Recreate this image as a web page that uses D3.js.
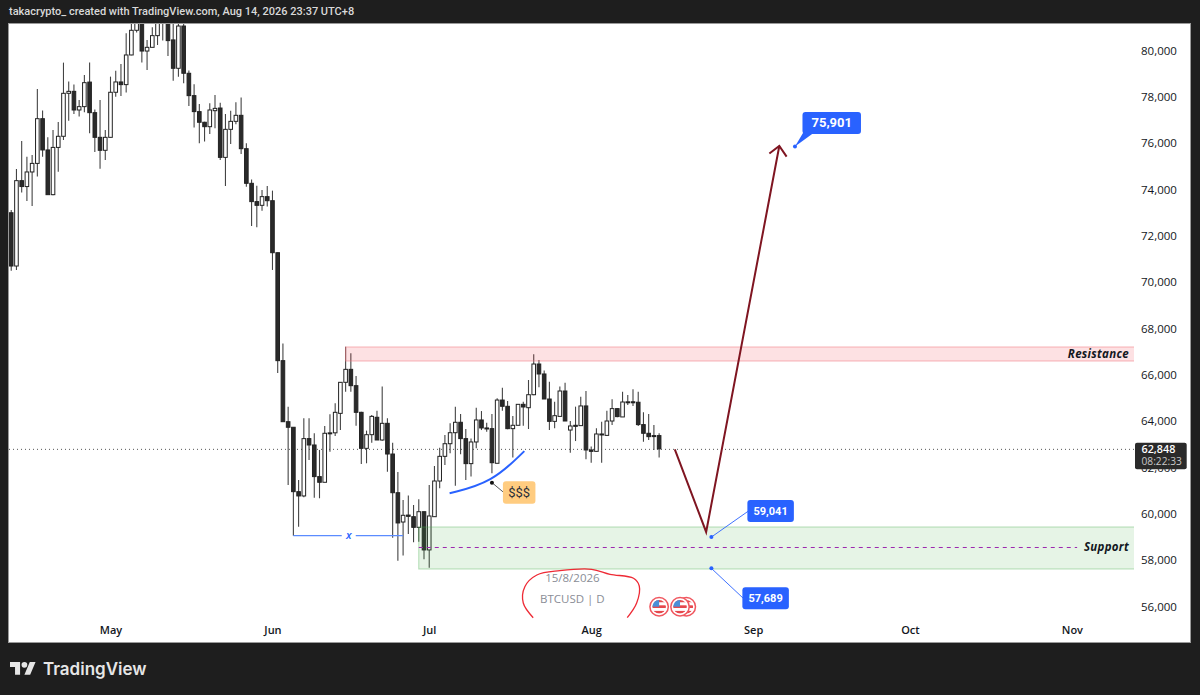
<!DOCTYPE html>
<html>
<head>
<meta charset="utf-8">
<script src="https://cdn.jsdelivr.net/npm/d3@7"></script>
<style>
  html, body { margin: 0; padding: 0; background: #1e1e1e; }
  svg { display: block; font-family: "Open Sans", sans-serif; }
  .price-axis text, .time-axis text { fill: #131722; font-size: 11.5px; font-family: "Open Sans", sans-serif; }
  .time-axis text { font-size: 11px; font-weight: 600; }
</style>
</head>
<body>
<svg id="chart" width="1200" height="695"></svg>
<script>
// daily candles, first one is 12 Apr 2026
var opens = [73040,70740,74425,74170,74800,75170,77100,75750,73820,75860,76340,78195,78280,77475,77620,78680,77360,76295,75735,76295,78240,78685,78570,79850,80915,81430,80020,80180,80685,81390,
  81600,80500,79275,81100,79060,78095,77405,76945,76755,77445,77560,75430,76640,76985,77245,75805,74310,73520,73360,73735,73560,71315,66655,64020,63780,61000,60815,63290,63015,61650,
  61405,63520,63540,64380,65720,66280,65575,64425,62870,63460,64210,63230,63950,62625,60955,59690,59990,59920,59460,60135,58485,59920,61460,62525,63070,63545,63995,63290,62210,63145,
  64095,63750,63720,62225,64955,64685,63720,63865,64770,64625,65185,66510,66080,65000,64035,64250,65345,63660,63865,63850,64700,62800,62740,63490,63430,64050,64585,64225,64870,64880,
  64860,63895,63520,63420,63420];
var highs = [73160,74930,76140,75460,75530,78380,77450,76300,76610,76960,79520,78700,78580,77910,78985,79520,77500,77910,76610,78915,79170,79460,80785,81500,81650,81600,80500,81045,81580,81900,
  81800,81400,81400,81300,79175,78585,77735,76970,77765,78125,77790,77305,77445,77805,78010,76035,74480,74210,74020,74195,73995,71320,67400,64670,63780,61505,64165,64165,63520,62800,
  63835,64340,64815,65730,67260,66970,65995,64455,63635,64310,64495,65535,64165,63115,61850,60640,60830,60425,60670,60140,61290,62110,62900,63445,63950,64670,64355,63705,63300,64625,
  64480,63980,64355,65030,65490,64915,64265,64770,64885,65820,66930,66685,66225,65750,64885,65535,65705,64050,64670,65100,65345,62945,63735,64020,64495,64985,64600,65315,65175,65420,
  65315,64425,64355,63880,63520];
var lows = [70540,70570,73910,73550,73330,74600,75460,73820,73790,74810,76180,77015,77300,77190,77375,76470,75660,74940,75320,76295,78050,78080,78225,79835,80815,79520,79200,80180,80280,80470,
  79805,78740,78915,78625,77650,76715,76035,76110,76440,76685,75315,74195,76010,76855,75575,74165,72470,72410,73130,73305,70570,66125,64020,61290,59100,59490,60755,62365,60740,60715,
  61405,62725,63405,63660,65315,65315,63850,62195,62225,63115,63230,63200,61865,59015,58020,58240,59175,58815,58840,58080,57720,59920,61145,62150,62655,61260,62610,61505,61650,62870,
  63660,63590,61790,62225,64495,63690,62470,63865,63850,63705,65160,65505,65000,63660,63735,64250,64050,62685,63185,63850,62395,62250,62725,62250,63405,63880,64210,64225,64740,64700,
  63835,63160,63230,62800,62470];
var closes = [70740,74425,74170,74800,75170,77100,75750,73820,75860,76340,78195,78280,77475,77620,78655,77360,76295,75735,76295,78240,78685,78570,79850,80915,81430,80020,80180,80685,81390,81600,
  80470,79275,81100,79060,78095,77405,76945,76755,77475,77545,75430,76640,76985,77245,75805,74310,73520,73360,73735,73560,71315,66655,64020,63780,61000,60815,63290,63015,61650,61405,
  63520,63540,64425,65720,66280,65575,64425,62870,63460,64250,63230,63950,62625,60955,59650,59980,59935,59460,60135,58485,59950,61460,62525,63070,63545,63995,63290,62210,63145,64095,
  63750,63720,62250,64955,64685,63720,63865,64770,64655,65185,66510,66080,65000,64035,64280,65345,64050,63835,63820,64700,62800,62740,63490,63460,64050,64585,64240,64870,64880,64860,
  63895,63520,63375,63390,62848];

var priceTicks = [56000,58000,60000,62000,64000,66000,68000,70000,72000,74000,76000,78000,80000];
// day offsets from 1 May 2026 for the month labels
var monthDays = [0,31,61,92,123,153,184];

// drawings, as [days from 1 May, price]
var resistanceZone = [[45,67245],[196,66640]];
var supportZone = [[59,59475],[196,57662]];
var supportMid = [[59,58590],[185,58590]];
var xLine = [[35,59101],[56,59101]];
var swingCurve = [[64.9,60930],[73,61390],[79.2,62750]];
var swingDot = [73,61390];
var arrowPath = [[108,62830],[114,59260],[128,75920]];
var arrowHead = [[126.1,75600],[128,75920],[129.4,75460]];
var redLoop = [[80.9,55560],[79,56194],[79.3,56898],[81.6,57403],[86,57589],[92.1,57650],[95.6,57433],[100.1,57261],[101.2,56928],[100.7,56194],[98.9,55560]];
var flagDays = [105,110.2,109];
var callouts = [
  { label: "75,901", day: 131, price: 75901, tail: true },
  { label: "59,041", day: 115, price: 59041, tail: false },
  { label: "57,689", day: 115, price: 57689, tail: false }
];

var svg = d3.select("#chart");
var left = 9, right = 1134, top_ = 24, bottom = 642;

function day(n) { return new Date(Date.UTC(2026, 4, 1) + n * 864e5); }

var x = d3.scaleUtc().domain([day(-20), day(196)]).range([6, 1134.6]);
var y = d3.scaleLinear().domain([56000, 80000]).range([607.5, 51.5]);

// page frame
svg.append("rect").attr("width", 1200).attr("height", 695).attr("fill", "#1e1e1e");
svg.append("rect").attr("x", left - 0.5).attr("y", top_ - 0.5).attr("width", 1182).attr("height", bottom - top_ + 1)
  .attr("fill", "#fff").attr("stroke", "#9a9a9a");

svg.append("text").attr("x", 9).attr("y", 14.5).attr("fill", "#d9d9d9").attr("font-size", 11)
  .attr("font-weight", 500).attr("font-family", "Roboto, sans-serif")
  .text("takacrypto_ created with TradingView.com, Aug 14, 2026 23:37 UTC+8");

svg.append("defs").append("clipPath").attr("id", "plot").append("rect")
  .attr("x", left).attr("y", top_).attr("width", right - left).attr("height", bottom - top_);

var plot = svg.append("g").attr("clip-path", "url(#plot)");

// axes
var priceAxis = d3.axisRight(y).tickValues(priceTicks).tickFormat(d3.format(",")).tickSize(0).tickPadding(7);
var gPrice = svg.append("g").attr("class", "price-axis").attr("transform", "translate(" + right + ",-1)").call(priceAxis);
gPrice.select(".domain").remove();

var timeAxis = d3.axisBottom(x).tickValues(monthDays.map(day)).tickFormat(d3.utcFormat("%b")).tickSize(0).tickPadding(0);
var gTime = svg.append("g").attr("class", "time-axis").attr("transform", "translate(0,626.5)").call(timeAxis);
gTime.select(".domain").remove();

// last price line
plot.append("line").attr("x1", left).attr("x2", right).attr("y1", y(closes[closes.length - 1]) + 0.5).attr("y2", y(closes[closes.length - 1]) + 0.5)
  .attr("stroke", "#555").attr("stroke-dasharray", "1,3");

// candles
var candles = opens.map(function (o, i) {
  return { date: day(i - 19), open: o, high: highs[i], low: lows[i], close: closes[i] };
});

var candle = plot.selectAll(".candle").data(candles).enter().append("g").attr("class", "candle");

candle.append("line")
  .attr("x1", function (d) { return x(d.date); })
  .attr("x2", function (d) { return x(d.date); })
  .attr("y1", function (d) { return y(d.high); })
  .attr("y2", function (d) { return y(d.low); })
  .attr("stroke", "#444").attr("stroke-width", 1.1);

candle.append("rect")
  .attr("x", function (d) { return x(d.date) - 1.8; })
  .attr("width", 3.6)
  .attr("y", function (d) { return y(Math.max(d.open, d.close)); })
  .attr("height", function (d) { return Math.max(1, Math.abs(y(d.open) - y(d.close))); })
  .attr("fill", function (d) { return d.close >= d.open ? "#fff" : "#2a2a2a"; })
  .attr("stroke", "#222").attr("stroke-width", 1);

// zones
function zone(pts, fill, edge) {
  plot.append("rect")
    .attr("x", x(day(pts[0][0])))
    .attr("y", y(pts[0][1]))
    .attr("width", x(day(pts[1][0])) - x(day(pts[0][0])))
    .attr("height", y(pts[1][1]) - y(pts[0][1]))
    .attr("fill", fill).attr("stroke", edge).attr("stroke-width", 1);
}
zone(resistanceZone, "rgba(242,54,69,0.15)", "rgba(242,120,130,0.55)");
zone(supportZone, "rgba(76,175,80,0.14)", "rgba(76,175,80,0.4)");

var line = d3.line().x(function (d) { return x(day(d[0])); }).y(function (d) { return y(d[1]); });

plot.append("path").attr("d", line(supportMid)).attr("fill", "none").attr("stroke", "#9c27b0")
  .attr("stroke-width", 1).attr("stroke-dasharray", "4,4");

svg.append("text").attr("x", 1129).attr("y", y(resistanceZone[1][1]) - 3.5).attr("text-anchor", "end")
  .attr("font-size", 11.5).attr("font-style", "italic").attr("font-weight", 700).attr("fill", "#131722")
  .attr("letter-spacing", 0.3).text("Resistance");
svg.append("text").attr("x", 1129).attr("y", y(supportMid[0][1]) + 3.5).attr("text-anchor", "end")
  .attr("font-size", 11.5).attr("font-style", "italic").attr("font-weight", 700).attr("fill", "#131722")
  .attr("letter-spacing", 0.3).text("Support");

// liquidity line with the x in the middle
plot.append("path").attr("d", line(xLine)).attr("fill", "none").attr("stroke", "#5b8cff").attr("stroke-width", 1.1);
var xMid = (x(day(xLine[0][0])) + x(day(xLine[1][0]))) / 2 + 0.5;
plot.append("rect").attr("x", xMid - 7).attr("y", y(xLine[0][1]) - 5).attr("width", 14).attr("height", 10).attr("fill", "#fff");
svg.append("text").attr("x", xMid).attr("y", y(xLine[0][1]) + 3.5).attr("text-anchor", "middle")
  .attr("font-size", 11).attr("font-style", "italic").attr("font-weight", 600).attr("fill", "#2962ff").text("x");

// curve under the lows and the $$$ note
plot.append("path").attr("d", line.curve(d3.curveBasis)(swingCurve.slice(0, 1).concat(swingCurve, swingCurve.slice(2))))
  .attr("fill", "none").attr("stroke", "#2962ff").attr("stroke-width", 2);
line.curve(d3.curveLinear);

var noteX = x(day(swingDot[0])), noteY = y(swingDot[1]);
svg.append("line").attr("x1", noteX).attr("y1", noteY).attr("x2", noteX + 12).attr("y2", noteY + 10)
  .attr("stroke", "#555").attr("stroke-width", 1);
svg.append("circle").attr("cx", noteX).attr("cy", noteY).attr("r", 2).attr("fill", "#111");
svg.append("rect").attr("x", noteX + 11).attr("y", noteY - 1.5).attr("width", 32.5).attr("height", 22.5).attr("rx", 3)
  .attr("fill", "#ffcc80");
svg.append("text").attr("x", noteX + 27.2).attr("y", noteY + 14.5).attr("text-anchor", "middle")
  .attr("font-size", 13).attr("font-family", "Roboto, sans-serif").attr("fill", "#2a2e39").text("$$$");

// projected move
svg.append("path").attr("d", line(arrowPath)).attr("fill", "none").attr("stroke", "#7f1521").attr("stroke-width", 2);
svg.append("path").attr("d", line(arrowHead)).attr("fill", "none").attr("stroke", "#7f1521").attr("stroke-width", 2);

// price callouts
callouts.forEach(function (c) {
  var cx = x(day(c.day)), cy = y(c.price);
  var boxX, boxY, boxW = 46.5, boxH = 22;
  if (c.tail) { boxX = cx + 7.5; boxY = cy - 34.5; boxW = 58.5; }
  else if (c.label === "59,041") { boxX = cx + 36; boxY = cy - 37; }
  else { boxX = cx + 31; boxY = cy + 19; }
  if (c.tail) {
    svg.append("path")
      .attr("d", d3.line()([[cx, cy], [boxX + 0.5, boxY + boxH - 1], [boxX + 11, boxY + boxH - 1]]))
      .attr("fill", "#2962ff");
  } else {
    svg.append("line").attr("x1", cx).attr("y1", cy).attr("x2", boxX + 1).attr("y2", boxY + boxH / 2)
      .attr("stroke", "#2962ff").attr("stroke-width", 0.9);
  }
  svg.append("circle").attr("cx", cx).attr("cy", cy).attr("r", 2).attr("fill", "#2962ff");
  svg.append("rect").attr("x", boxX).attr("y", boxY).attr("width", boxW).attr("height", boxH).attr("rx", 3).attr("fill", "#2962ff");
  svg.append("text").attr("x", boxX + boxW / 2).attr("y", boxY + (c.tail ? 15.5 : 15)).attr("text-anchor", "middle")
    .attr("font-family", "Roboto, sans-serif")
    .attr("font-size", c.tail ? 13 : 11).attr("font-weight", 700).attr("fill", "#fff").text(c.label);
});

// watermark
svg.append("text").attr("x", x(day(88.4))).attr("y", 581.5).attr("text-anchor", "middle").attr("font-size", 11.5)
  .attr("fill", "#8a8d96").text("15/8/2026");
svg.append("text").attr("x", x(day(88.4))).attr("y", 602.5).attr("text-anchor", "middle").attr("font-size", 11.5)
  .attr("fill", "#8a8d96").text("BTCUSD | D");

// red hand drawn loop
plot.append("path").attr("d", line.curve(d3.curveCatmullRom)(redLoop)).attr("fill", "none")
  .attr("stroke", "#ee2a35").attr("stroke-width", 1.3);

// US flag event marks
flagDays.slice().sort(function (a, b) { return b - a; }).forEach(function (fd, i) {
  var cx = x(day(fd)), cy = 606.7;
  var g = svg.append("g").attr("transform", "translate(" + cx + "," + cy + ")");
  g.append("circle").attr("r", 9.2).attr("fill", "#fff").attr("stroke", "#f0575f").attr("stroke-width", 1.5);
  var clipId = "flag" + i;
  g.append("clipPath").attr("id", clipId).append("circle").attr("r", 6.8);
  var f = g.append("g").attr("clip-path", "url(#" + clipId + ")");
  d3.range(5).forEach(function (s) {
    f.append("rect").attr("x", -7).attr("y", -7 + s * 2.8).attr("width", 14).attr("height", 2.8)
      .attr("fill", s % 2 ? "#fff" : "#e5484d");
  });
  f.append("rect").attr("x", -7).attr("y", -7).attr("width", 7).attr("height", 7).attr("fill", "#4a8fd8");
});

// last price tag
svg.append("rect").attr("x", 1135).attr("y", 442.7).attr("width", 51.7).attr("height", 26.6).attr("rx", 2).attr("fill", "#2a2a2a");
svg.append("text").attr("x", 1141.5).attr("y", 453).attr("font-size", 10.8).attr("font-weight", 600).attr("fill", "#fff").text(d3.format(",")(closes[closes.length - 1]));
svg.append("text").attr("x", 1141.5).attr("y", 465).attr("font-size", 10.2).attr("fill", "#c8c8c8").text("08:22:33");

// logo
var logo = svg.append("g").attr("transform", "translate(10,659) scale(0.72)").attr("fill", "#e6e6e6");
logo.append("path").attr("d", "M14 22H7V11H0V4h14v18zM28 22h-8l7.5-18h8L28 22z");
logo.append("circle").attr("cx", 20).attr("cy", 8).attr("r", 4);
svg.append("text").attr("x", 43).attr("y", 675).attr("font-size", 17).attr("font-weight", 600).attr("fill", "#e6e6e6")
  .attr("font-family", "Inter, sans-serif").text("TradingView");
</script>
</body>
</html>
